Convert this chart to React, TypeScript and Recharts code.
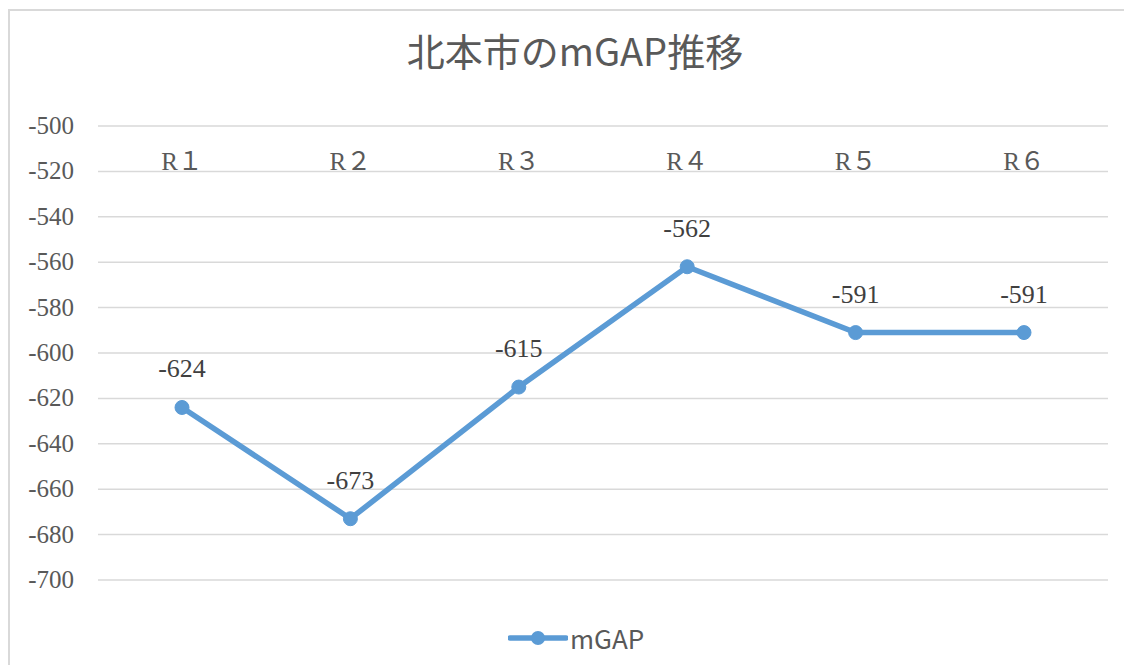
import { LineChart, Line, XAxis, YAxis, CartesianGrid, LabelList } from 'recharts'

const categories = ['R１', 'R２', 'R３', 'R４', 'R５', 'R６']
const mgapValues = [-624, -673, -615, -562, -591, -591]
const yTicks = [-700, -680, -660, -640, -620, -600, -580, -560, -540, -520, -500]

const chartData = categories.map((name, i) => ({ name, mGAP: mgapValues[i] }))

const LINE_COLOR = '#5b9bd5'
const GRID_COLOR = '#d9d9d9'
const SERIF = "'Liberation Serif', 'Noto Sans CJK JP', serif"
const SANS = "'Noto Sans CJK JP', 'Noto Sans', sans-serif"

// category labels sit just under the top gridline, like the Excel original
const renderTopTick = (props: any) => (
  <text
    key={props.index}
    x={props.x}
    y={162}
    textAnchor="middle"
    fill="#595959"
    fontSize={25}
    fontFamily={SERIF}
  >
    {props.payload.value}
  </text>
)

const renderYTick = (props: any) => (
  <text
    key={props.index}
    x={66}
    y={props.y}
    dy={8}
    textAnchor="end"
    fill="#595959"
    fontSize={25}
    fontFamily={SERIF}
  >
    {props.payload.value}
  </text>
)

export default function App() {
  return (
    <div style={{ position: 'relative', width: 1124, height: 657, overflow: 'hidden' }}>
      <div
        style={{
          position: 'absolute',
          left: 0,
          top: 1,
          right: 0,
          bottom: 0,
          borderLeft: `2px solid ${GRID_COLOR}`,
          borderTop: `2px solid ${GRID_COLOR}`,
        }}
      />
      <div
        style={{
          position: 'absolute',
          left: 0,
          top: 23,
          width: 1134,
          textAlign: 'center',
          fontFamily: SANS,
          fontSize: 38,
          lineHeight: '38px',
          color: '#595959',
        }}
      >
        北本市のmGAP推移
      </div>
      <LineChart
        width={1124}
        height={657}
        data={chartData}
        margin={{ top: 88, right: 24, bottom: 85, left: 0 }}
      >
        <CartesianGrid horizontal vertical={false} stroke={GRID_COLOR} strokeWidth={1.5} />
        <XAxis
          dataKey="name"
          orientation="top"
          height={30}
          axisLine={false}
          tickLine={false}
          padding={{ left: 84, right: 84 }}
          tick={renderTopTick}
          interval={0}
        />
        <YAxis
          domain={[-700, -500]}
          ticks={yTicks}
          width={90}
          axisLine={false}
          tickLine={false}
          tick={renderYTick}
          interval={0}
        />
        <Line
          type="linear"
          dataKey="mGAP"
          stroke={LINE_COLOR}
          strokeWidth={5.5}
          dot={{ r: 7, fill: LINE_COLOR, stroke: LINE_COLOR, strokeWidth: 1 }}
          isAnimationActive={false}
        >
          <LabelList
            dataKey="mGAP"
            position="top"
            offset={30}
            fill="#404040"
            fontSize={26}
            fontFamily={SERIF}
          />
        </Line>
      </LineChart>
      <div
        style={{
          position: 'absolute',
          left: 500,
          top: 611,
          display: 'flex',
          alignItems: 'center',
          fontFamily: SANS,
          fontSize: 26,
          color: '#595959',
        }}
      >
        <svg width={60} height={30}>
          <line x1={2} y1={15} x2={58} y2={15} stroke={LINE_COLOR} strokeWidth={5.5} strokeLinecap="round" />
          <circle cx={30} cy={15} r={7} fill={LINE_COLOR} />
        </svg>
        <span style={{ marginLeft: 2 }}>mGAP</span>
      </div>
    </div>
  )
}
